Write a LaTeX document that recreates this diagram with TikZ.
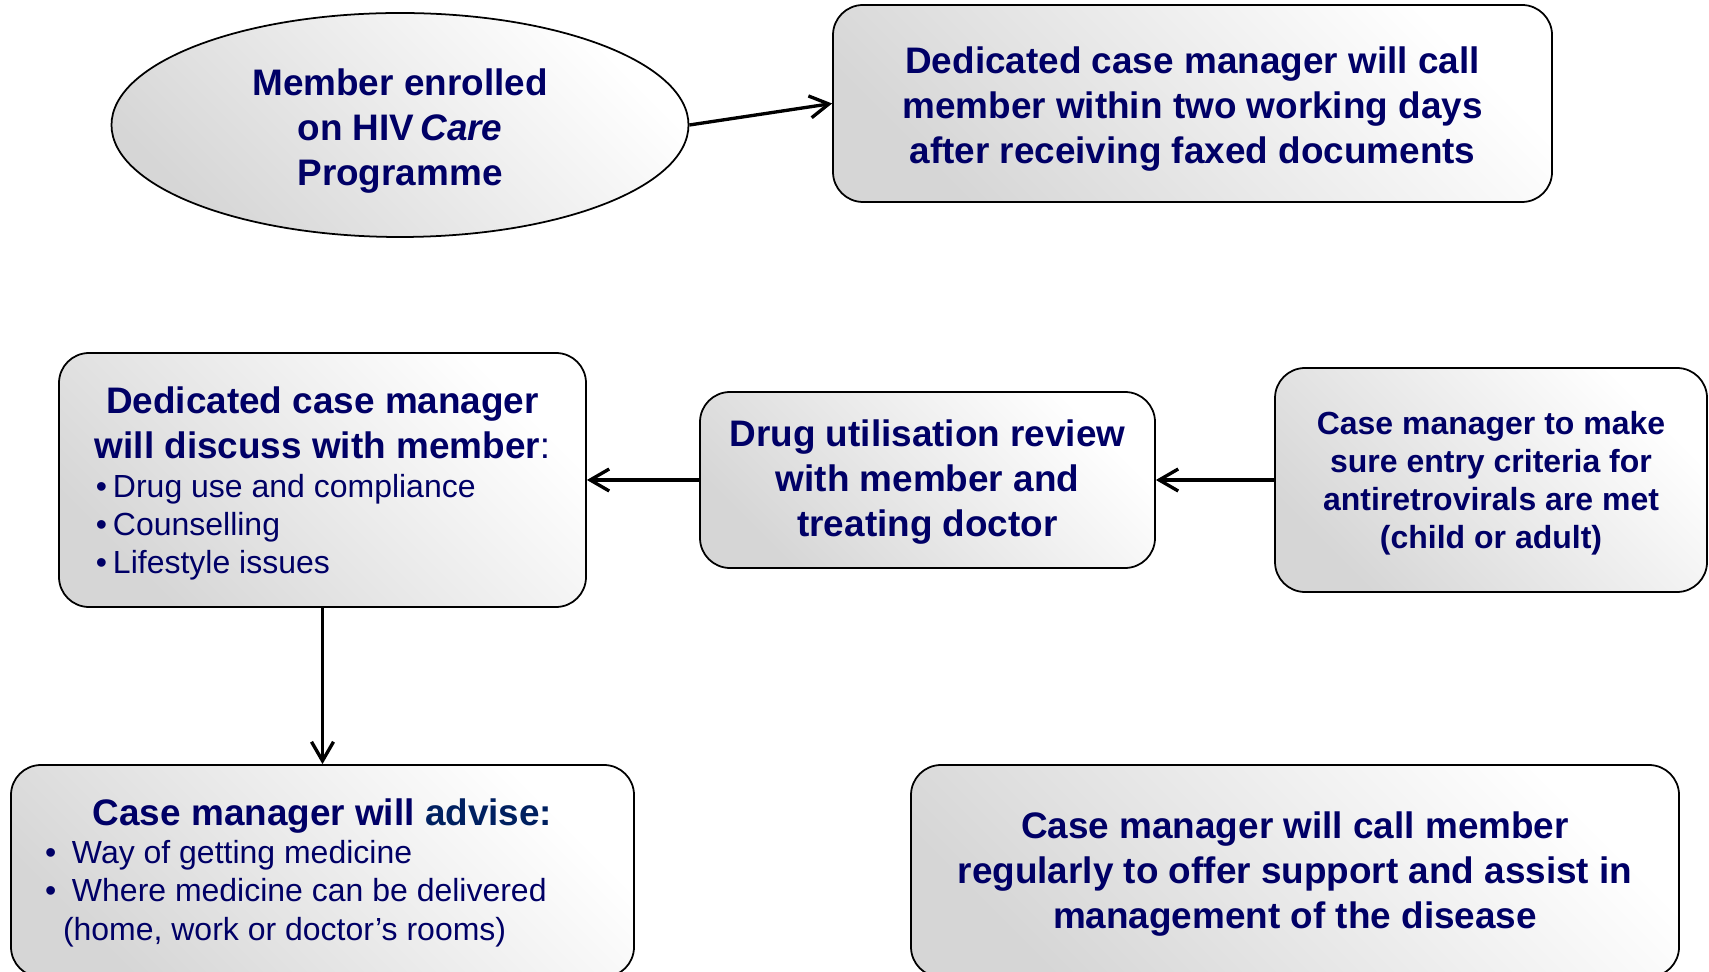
\documentclass[tikz,border=0pt]{standalone}
\usepackage{fontspec}
\setmainfont{Liberation Sans}
\usetikzlibrary{arrows.meta,positioning,shapes.geometric}
\definecolor{navy}{RGB}{0,0,102}
\definecolor{navyb}{RGB}{0,32,96}

\begin{document}
\begin{tikzpicture}[on grid,
  >={Straight Barb[length=0.38cm,width=0.44cm]},
  stage/.style={draw,line width=1pt,rounded corners=0.6cm,
    top color=white,bottom color=black!16,shading angle=-45,
    text=navy,align=center,inner sep=0pt,
    font=\bfseries\fontsize{21}{25.6}\selectfont,
    execute at begin node={\parindent=0pt}},
  flow/.style={->,line width=1.9pt}]
\useasboundingbox (0,0) rectangle (34.18,19.42);
\clip (0,0) rectangle (34.18,19.42);

\node[stage,ellipse,rounded corners=0pt,minimum width=11.54cm,minimum height=4.48cm] (enrol) at (8,16.92)
  {\rule{0pt}{0.76cm}Member enrolled\\on HIV\,\textit{Care}\\Programme};
\node[stage,minimum width=14.38cm,minimum height=3.94cm] (call) at (23.85,17.35)
  {\rule{0pt}{0.76cm}Dedicated case manager will call\\member within two working days\\after receiving faxed documents};

\node[stage,align=flush left,text width=9.5cm,minimum width=10.54cm,minimum height=5.08cm] (discuss) at (6.45,9.82)
  {\spaceskip=0pt\xspaceskip=0pt
   {\centering\rule{0pt}{0.68cm}Dedicated case manager\\will discuss with member\mdseries:\par}
   \mdseries\fontsize{18.2}{21.6}\selectfont\vspace{0.6pt}
   \hspace*{0.22cm}\makebox[0.34cm][l]{\textbullet}Drug use and compliance\par
   \hspace*{0.22cm}\makebox[0.34cm][l]{\textbullet}Counselling\par
   \hspace*{0.22cm}\makebox[0.34cm][l]{\textbullet}Lifestyle issues\par};
\node[stage,minimum width=9.1cm,minimum height=3.52cm] (review) [right=12.1cm of discuss]
  {\rule{0pt}{0.63cm}Drug utilisation review\\with member and\\treating doctor};
\node[stage,minimum width=8.64cm,minimum height=4.48cm,font=\bfseries\fontsize{18.2}{21.6}\selectfont] (criteria) [right=11.27cm of review]
  {\rule{0pt}{0.6cm}Case manager to make\\sure entry criteria for\\antiretrovirals are met\\(child or adult)};

\node[stage,align=flush left,text width=11.2cm,minimum width=12.46cm,minimum height=4.24cm] (advise) [below=7.82cm of discuss]
  {\spaceskip=0pt\xspaceskip=0pt
   {\centering\rule{0pt}{0.6cm}Case manager will \textcolor{navyb}{advise:}\par}
   \mdseries\fontsize{18.2}{21.8}\selectfont
   \hspace*{0.05cm}\makebox[0.54cm][l]{\textbullet}Way of getting medicine\par
   \hspace*{0.05cm}\makebox[0.54cm][l]{\textbullet}Where medicine can be delivered\par
   \hspace*{0.41cm}(home, work or doctor’s rooms)\par};
\node[stage,minimum width=15.36cm,minimum height=4.24cm] (support) [right=19.45cm of advise]
  {\rule{0pt}{0.67cm}Case manager will call member\\regularly to offer support and assist in\\management of the disease};

\draw[flow] (enrol.east) -- (call.west);
\draw[flow] (criteria.west) -- (review.east);
\draw[flow] (review.west) -- (discuss.east);
\draw[flow] (discuss.south) -- (advise.north);
\end{tikzpicture}
\end{document}
